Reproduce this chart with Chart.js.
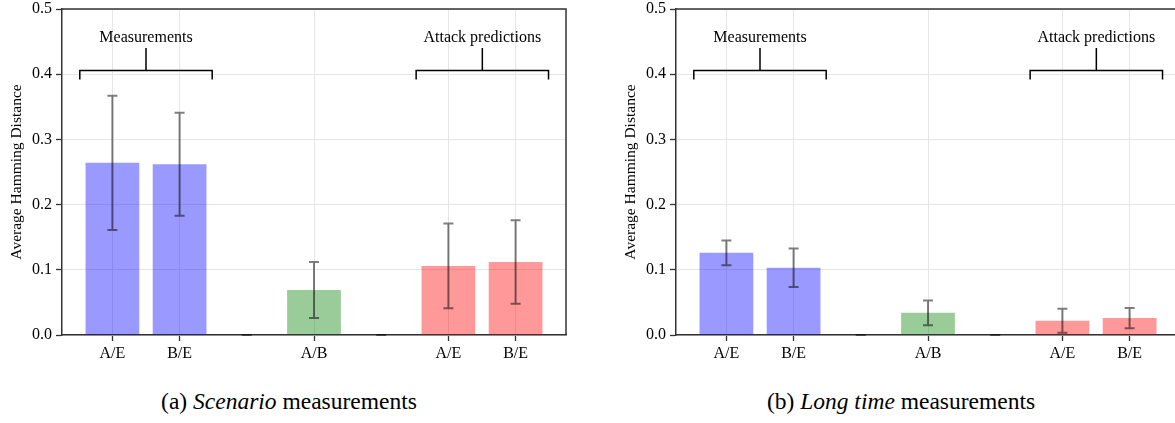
<!DOCTYPE html>
<html><head><meta charset="utf-8">
<script src="https://cdn.jsdelivr.net/npm/chart.js@4/dist/chart.umd.min.js"></script>
<style>
html,body{margin:0;padding:0;background:#fff;overflow:hidden;width:1175px;height:423px;position:relative;}
.wrap{position:absolute;top:0;width:580px;height:370px;}
.cap{position:absolute;top:388px;font-family:'Liberation Serif',serif;font-size:23.5px;white-space:nowrap;transform:translateX(-50%);color:#000;}
</style></head><body>
<div class="wrap" style="left:0"><canvas id="c1" width="580" height="370"></canvas></div>
<div class="wrap" style="left:614px"><canvas id="c2" width="580" height="370"></canvas></div>
<div class="cap" style="left:289px">(a) <i>Scenario</i> measurements</div>
<div class="cap" style="left:901px">(b) <i>Long time</i> measurements</div>
<script>
// ---- data ----
const categories = ['A/E', 'B/E', '', 'A/B', '', 'A/E', 'B/E'];
const scenarioMeans = [0.264, 0.262, 0, 0.069, 0, 0.106, 0.112];
const scenarioErrors = [0.103, 0.079, 0, 0.043, 0, 0.065, 0.064];
const longTimeMeans = [0.126, 0.103, 0, 0.034, 0, 0.022, 0.026];
const longTimeErrors = [0.019, 0.0295, 0, 0.019, 0, 0.0184, 0.0155];
const yTicks = [0.0, 0.1, 0.2, 0.3, 0.4, 0.5];
const groupLabels = ['Measurements', 'Attack predictions'];
const groupSpans = [[-0.485, 1.485], [4.52, 6.49]];
const yTitle = 'Average Hamming Distance';

// ---- styles ----
const barColors = ['rgba(0,0,255,0.4)', 'rgba(0,0,255,0.4)', 'rgba(0,0,255,0.4)', 'rgba(0,128,0,0.4)',
                   'rgba(0,128,0,0.4)', 'rgba(255,0,0,0.4)', 'rgba(255,0,0,0.4)'];
const FONT = "'Liberation Serif', serif";

const errorBarPlugin = {
  id: 'errorBars',
  afterDatasetsDraw(chart, args, opts) {
    const errs = opts.errors || [];
    const xs = chart.scales.x, ys = chart.scales.y;
    const ctx = chart.ctx;
    ctx.save();
    ctx.strokeStyle = 'rgba(0,0,0,0.5)';
    ctx.lineWidth = 2;
    chart.data.datasets[0].data.forEach((d, i) => {
      const e = errs[i];
      if (e === undefined) return;
      const px = xs.getPixelForValue(d.x);
      const yt = ys.getPixelForValue(d.y + e);
      const yb = ys.getPixelForValue(d.y - e);
      ctx.beginPath();
      ctx.moveTo(px, yt); ctx.lineTo(px, yb);
      ctx.moveTo(px - 5, yt); ctx.lineTo(px + 5, yt);
      ctx.moveTo(px - 5, yb); ctx.lineTo(px + 5, yb);
      ctx.stroke();
    });
    ctx.restore();
  }
};

const framePlugin = {
  id: 'frame',
  afterDraw(chart) {
    const {ctx, chartArea: {left, right, top, bottom}} = chart;
    ctx.save();
    ctx.strokeStyle = '#333';
    ctx.lineWidth = 1.5;
    ctx.beginPath();
    ctx.moveTo(left, top); ctx.lineTo(right, top); ctx.lineTo(right, bottom);
    ctx.stroke();
    ctx.restore();
  }
};

const bracketPlugin = {
  id: 'brackets',
  afterDraw(chart) {
    const xs = chart.scales.x, ys = chart.scales.y, ctx = chart.ctx;
    ctx.save();
    ctx.strokeStyle = '#000';
    ctx.lineWidth = 1.5;
    ctx.fillStyle = '#000';
    ctx.font = "16px " + FONT;
    ctx.textAlign = 'center';
    ctx.textBaseline = 'alphabetic';
    groupSpans.forEach((span, i) => {
      const x0 = xs.getPixelForValue(span[0]);
      const x1 = xs.getPixelForValue(span[1]);
      const xm = (x0 + x1) / 2;
      const yl = ys.getPixelForValue(0.4055);
      const ye = ys.getPixelForValue(0.392);
      const ys0 = ys.getPixelForValue(0.44);
      ctx.beginPath();
      ctx.moveTo(x0, ye); ctx.lineTo(x0, yl); ctx.lineTo(x1, yl); ctx.lineTo(x1, ye);
      ctx.moveTo(xm, yl); ctx.lineTo(xm, ys0);
      ctx.stroke();
      ctx.fillText(groupLabels[i], xm, ys.getPixelForValue(0.449));
    });
    ctx.restore();
  }
};

function makeChart(id, means, errors) {
  return new Chart(document.getElementById(id), {
    type: 'bar',
    data: {
      datasets: [{
        data: means.map((v, i) => ({x: i, y: v})),
        backgroundColor: barColors,
        borderWidth: 0,
        barPercentage: 0.8,
        categoryPercentage: 1.0
      }]
    },
    options: {
      responsive: false,
      animation: false,
      layout: {padding: {top: 9, right: 14, left: 0, bottom: 0}},
      plugins: {
        legend: {display: false},
        tooltip: {enabled: false},
        errorBars: {errors: errors}
      },
      scales: {
        x: {
          type: 'linear',
          offset: false,
          min: -0.75, max: 6.75,
          afterBuildTicks: s => { s.ticks = categories.map((c, i) => ({value: i})).filter(t => categories[t.value] !== ''); },
          afterFit: s => { s.height = 35; s.paddingLeft = 0; s.paddingRight = 0; },
          ticks: {
            callback: v => categories[v],
            font: {family: FONT, size: 16}, color: '#000', padding: 3, maxRotation: 0, autoSkip: false
          },
          grid: {offset: false, color: '#e6e6e6', lineWidth: 1, tickColor: '#333', tickLength: 6, tickWidth: 1.3},
          border: {color: '#333', width: 1.5}
        },
        y: {
          min: 0, max: 0.5,
          afterBuildTicks: s => { s.ticks = yTicks.map(v => ({value: v})); },
          afterFit: s => { s.width = 62; s.paddingTop = 0; s.paddingBottom = 0; },
          ticks: {
            callback: v => v.toFixed(1),
            font: {family: FONT, size: 16}, color: '#000', padding: 4
          },
          grid: {color: '#e6e6e6', lineWidth: 1, tickColor: '#333', tickLength: 6, tickWidth: 1.3},
          border: {color: '#333', width: 1.5},
          title: {display: true, text: yTitle, font: {family: FONT, size: 15.5}, color: '#000', padding: {top: 8, bottom: 0}}
        }
      }
    },
    plugins: [errorBarPlugin, framePlugin, bracketPlugin]
  });
}

makeChart('c1', scenarioMeans, scenarioErrors);
makeChart('c2', longTimeMeans, longTimeErrors);
</script>
</body></html>
